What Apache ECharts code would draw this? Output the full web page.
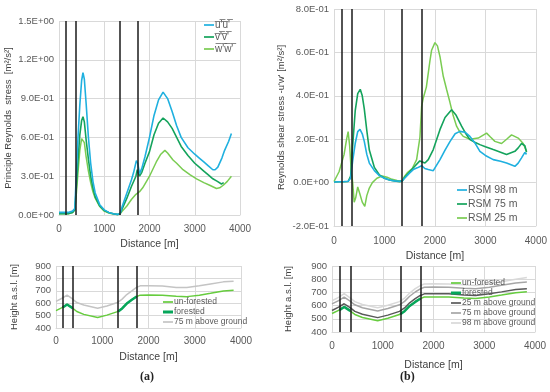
<!DOCTYPE html>
<html><head><meta charset="utf-8">
<script src="https://cdn.jsdelivr.net/npm/echarts@6/dist/echarts.min.js"></script>
<style>html,body{margin:0;padding:0;background:#fff}#c{width:550px;height:392px}</style>
</head><body><div id="c"></div>
<script>
// ---------- data ----------
const xTicks = [0, 1000, 2000, 3000, 4000];
const forestEdges = [145, 360, 1345, 1745];

// (a) principal Reynolds stresses
const uuDist = [0,100,200,300,350,380,420,460,500,530,560,600,650,700,750,800,900,1000,1100,1200,1300,1350,1400,1500,1600,1650,1710,1740,1780,1830,1900,2000,2100,2200,2300,2400,2500,2600,2700,2850,3000,3100,3200,3300,3400,3450,3510,3600,3660,3750,3810];
const uuVal  = [0.02,0.02,0.02,0.03,0.05,0.30,0.60,0.85,1.04,1.10,1.05,0.86,0.60,0.40,0.26,0.17,0.08,0.04,0.02,0.01,0.005,0.01,0.07,0.17,0.27,0.33,0.42,0.40,0.32,0.36,0.45,0.60,0.77,0.89,0.95,0.90,0.80,0.69,0.60,0.52,0.47,0.44,0.41,0.38,0.35,0.35,0.37,0.44,0.50,0.57,0.63];
const vvDist = [0,100,200,300,350,380,420,460,500,530,560,600,650,700,750,800,900,1000,1100,1200,1300,1350,1400,1500,1600,1700,1730,1780,1830,1900,2000,2100,2200,2300,2400,2500,2600,2700,2850,3000,3100,3200,3300,3400,3500,3590,3640];
const vvVal  = [0.01,0.01,0.01,0.02,0.04,0.20,0.42,0.62,0.73,0.76,0.72,0.58,0.43,0.30,0.21,0.14,0.07,0.035,0.02,0.01,0.003,0.01,0.05,0.13,0.22,0.30,0.35,0.30,0.33,0.40,0.49,0.62,0.71,0.75,0.72,0.67,0.60,0.53,0.46,0.40,0.37,0.34,0.31,0.28,0.26,0.24,0.25];
const wwDist = [0,100,200,300,350,380,420,460,500,530,560,600,650,700,750,800,900,1000,1100,1200,1300,1350,1400,1500,1600,1700,1780,1850,1950,2000,2150,2250,2340,2400,2520,2600,2740,2900,3040,3200,3330,3480,3550,3630,3720,3810];
const wwVal  = [0.01,0.01,0.01,0.02,0.04,0.15,0.33,0.50,0.59,0.60,0.56,0.45,0.34,0.25,0.18,0.13,0.065,0.03,0.015,0.008,0.003,0.01,0.03,0.07,0.12,0.16,0.18,0.21,0.27,0.30,0.41,0.47,0.50,0.48,0.425,0.40,0.35,0.31,0.28,0.25,0.23,0.205,0.21,0.23,0.26,0.30];

// (b) shear stress
const r98Dist = [0,100,200,280,330,370,420,470,515,560,600,650,700,800,900,1000,1100,1200,1300,1350,1400,1500,1570,1650,1736,1800,1868,1967,2100,2200,2300,2400,2495,2600,2693,2800,2891,3000,3155,3300,3419,3584,3650,3716,3782,3815];
const r98Val  = [0.003,0.004,0.005,0.006,0.02,0.10,0.18,0.235,0.245,0.225,0.19,0.13,0.09,0.055,0.032,0.02,0.012,0.008,0.006,0.008,0.02,0.045,0.06,0.068,0.078,0.065,0.06,0.055,0.106,0.15,0.19,0.225,0.236,0.232,0.213,0.18,0.144,0.125,0.106,0.098,0.09,0.075,0.09,0.114,0.139,0.13];
const r75Dist = [0,100,200,280,330,370,420,470,520,560,600,650,700,800,900,1000,1100,1200,1300,1350,1400,1500,1600,1700,1736,1802,1868,1967,2099,2200,2330,2420,2528,2600,2693,2800,2891,3000,3155,3300,3419,3584,3650,3716,3782,3815];
const r75Val  = [0.003,0.004,0.004,0.005,0.03,0.17,0.33,0.41,0.43,0.40,0.34,0.24,0.15,0.07,0.035,0.02,0.012,0.007,0.004,0.006,0.025,0.05,0.075,0.10,0.109,0.09,0.106,0.152,0.244,0.30,0.336,0.31,0.26,0.23,0.198,0.185,0.175,0.165,0.152,0.14,0.129,0.144,0.16,0.18,0.17,0.14];
const r25Dist = [0,100,200,250,280,310,340,370,400,430,470,510,560,610,650,700,760,850,950,1050,1150,1250,1350,1400,1450,1550,1637,1703,1736,1769,1830,1900,1934,2000,2050,2100,2165,2230,2297,2360,2429,2500,2561,2693,2858,3023,3100,3188,3320,3420,3518,3650,3749,3815];
const r25Val  = [0.005,0.05,0.13,0.20,0.235,0.17,0.06,0.0,-0.09,-0.07,-0.02,-0.05,-0.09,-0.11,-0.06,-0.025,0.0,0.02,0.03,0.025,0.015,0.01,0.008,0.03,0.045,0.065,0.106,0.21,0.35,0.39,0.44,0.56,0.61,0.645,0.63,0.58,0.49,0.43,0.37,0.31,0.26,0.23,0.213,0.20,0.205,0.228,0.21,0.19,0.18,0.20,0.22,0.205,0.18,0.144];

// terrain profiles
const terDist  = [0,130,240,350,450,600,900,1100,1330,1430,1530,1640,1740,1820,2000,2300,2600,2830,3100,3340,3620,3840];
const unforH   = [540,564,590,562,533,510,485,504,532,558,597,628,653,665,666,665,657,653,665,680,698,704];
const forDist  = [145,240,360,null,1345,1430,1530,1640,1745];
const forH     = [566,590,560,null,534,558,597,628,654];
const h75aH    = [615,640,665,636,605,585,560,578,605,633,670,700,728,740,740,738,727,727,740,755,772,778];
const h25H     = [563,588,614,586,556,534,509,528,556,582,621,653,677,689,690,689,681,677,689,704,722,728];
const h75bH    = [613,638,664,636,606,584,559,578,606,632,671,703,727,739,740,739,731,727,739,754,772,778];
const h98H     = [637,662,690,660,630,608,583,602,630,656,695,728,752,764,765,764,757,752,765,780,800,812];

// ---------- helpers ----------
const zip = (xs, ys) => xs.map((x, i) => (x === null ? [null, null] : [x, ys[i]]));
function sci(v) {
  if (Math.abs(v) < 1e-10) return '0.0E+00';
  const s = v.toExponential(1).split('e');
  const n = Math.abs(parseInt(s[1], 10));
  return s[0] + 'E' + (s[1][0] === '-' ? '-' : '+') + (n < 10 ? '0' : '') + n;
}
const FONT = 'Liberation Sans';
const TXT = '#595959';
const GRID = '#d9d9d9';
const ov = s => s.split('').map(c => c + '\u0305').join('');
const NU = ov("u'u'"), NV = ov("v'v'"), NW = ov("w'w'");

const C_BLUE = '#1fb0df', C_DG = '#14a35c', C_LG = '#7acc52';
const C_UN = '#66cc3e', C_FO = '#06a65a';
const THIN = 'path://M0,0H10V1.7H0Z';
const THICK = 'path://M0,0H10V3H0Z';

function xAx(gi, gapL, gapN) {
  return {
    gridIndex: gi, type: 'value', min: 0, max: 4000, interval: 1000,
    axisLine: { show: true, onZero: false, lineStyle: { color: GRID } },
    axisTick: { show: false },
    axisLabel: { color: TXT, fontFamily: FONT, fontSize: 10, margin: gapL, formatter: v => String(v) },
    splitLine: { show: true, lineStyle: { color: GRID, width: 1 } },
    name: 'Distance [m]', nameLocation: 'middle', nameGap: gapN,
    nameTextStyle: { color: '#404040', fontFamily: FONT, fontSize: 10.5 }
  };
}
function yAx(gi, min, max, interval, fmt, name, gap) {
  return {
    gridIndex: gi, type: 'value', min: min, max: max, interval: interval,
    axisLine: { show: false }, axisTick: { show: false },
    axisLabel: { color: TXT, fontFamily: FONT, fontSize: 9.5, margin: 5, formatter: fmt || (v => String(v)) },
    splitLine: { show: true, lineStyle: { color: GRID, width: 1 } },
    name: name, nameLocation: 'middle', nameGap: gap, nameRotate: 90,
    nameTextStyle: { color: '#404040', fontFamily: FONT, fontSize: 9.5 }
  };
}
function ln(name, xi, data, color, width, mark) {
  const s = {
    name: name, type: 'line', xAxisIndex: xi, yAxisIndex: xi, data: data,
    symbol: 'none', showSymbol: false, connectNulls: false,
    lineStyle: { color: color, width: width }, itemStyle: { color: color },
    emphasis: { disabled: true }, animation: false, z: 3
  };
  if (mark) {
    s.markLine = {
      silent: true, symbol: 'none', animation: false, label: { show: false },
      lineStyle: { color: '#1a1a1a', width: 1.5, type: 'solid' },
      data: forestEdges.map(v => ({ xAxis: v }))
    };
  }
  return s;
}
function leg(names, left, top, fs, lh, gap) {
  return {
    data: names.map(n => ({ name: n, icon: n === 'forested' ? THICK : THIN })),
    orient: 'vertical', left: left, top: top, padding: 0,
    itemGap: gap, itemWidth: 10, itemHeight: 6, selectedMode: false,
    textStyle: { color: TXT, fontFamily: FONT, fontSize: fs, lineHeight: lh, padding: [0, 0, 0, -4] }
  };
}

const chart = echarts.init(document.getElementById('c'), null, { renderer: 'canvas' });
chart.setOption({
  animation: false,
  backgroundColor: '#fff',
  grid: [
    { left: 59, top: 21, width: 181, height: 194 },
    { left: 334, top: 9, width: 202, height: 217 },
    { left: 56, top: 266, width: 185, height: 62 },
    { left: 332, top: 266, width: 203, height: 66 }
  ],
  xAxis: [xAx(0, 9, 24), xAx(1, 10, 25), xAx(2, 8, 24), xAx(3, 9, 28)],
  yAxis: [
    yAx(0, 0, 1.5, 0.3, sci, 'Principle Reynolds  stress  [m\u00b2/s\u00b2]', 46),
    yAx(1, -0.2, 0.8, 0.2, sci, "Reynolds shear stress -u'w' [m\u00b2/s\u00b2]", 48),
    yAx(2, 400, 900, 100, null, 'Height a.s.l. [m]', 37),
    yAx(3, 400, 900, 100, null, 'Height a.s.l. [m]', 39)
  ],
  legend: [
    leg([NU, NV, NW], 204, 19, 10, 12, 0),
    leg(['RSM 98 m', 'RSM 75 m', 'RSM 25 m'], 457, 184, 10.5, 12, 2),
    leg(['un-forested', 'forested', '75 m above ground'], 163, 297, 8.5, 10, 0),
    leg(['un-forested', 'forested', '25 m above ground', '75 m above ground ', '98 m above ground'], 451, 278, 8.5, 10, 0)
  ],
  title: [
    { text: '(a)', left: 140, top: 371, padding: 0, textStyle: { fontFamily: 'Liberation Serif', fontWeight: 'bold', fontSize: 12, color: '#222' } },
    { text: '(b)', left: 400, top: 371, padding: 0, textStyle: { fontFamily: 'Liberation Serif', fontWeight: 'bold', fontSize: 12, color: '#222' } }
  ],
  series: [
    ln(NW, 0, zip(wwDist, wwVal), C_LG, 1.5, true),
    ln(NV, 0, zip(vvDist, vvVal), C_DG, 1.6, false),
    ln(NU, 0, zip(uuDist, uuVal), C_BLUE, 1.6, false),

    ln('RSM 25 m', 1, zip(r25Dist, r25Val), C_LG, 1.5, true),
    ln('RSM 75 m', 1, zip(r75Dist, r75Val), C_DG, 1.6, false),
    ln('RSM 98 m', 1, zip(r98Dist, r98Val), C_BLUE, 1.6, false),

    ln('75 m above ground', 2, zip(terDist, h75aH), '#c4c4c4', 1.5, true),
    ln('un-forested', 2, zip(terDist, unforH), C_UN, 1.5, false),
    ln('forested', 2, zip(forDist, forH), C_FO, 2.5, false),

    ln('98 m above ground', 3, zip(terDist, h98H), '#d9d9d9', 1.5, true),
    ln('75 m above ground ', 3, zip(terDist, h75bH), '#a6a6a6', 1.5, false),
    ln('25 m above ground', 3, zip(terDist, h25H), '#595959', 1.5, false),
    ln('un-forested', 3, zip(terDist, unforH), C_UN, 1.5, false),
    ln('forested', 3, zip(forDist, forH), C_FO, 2.5, false)
  ]
});
</script></body></html>
